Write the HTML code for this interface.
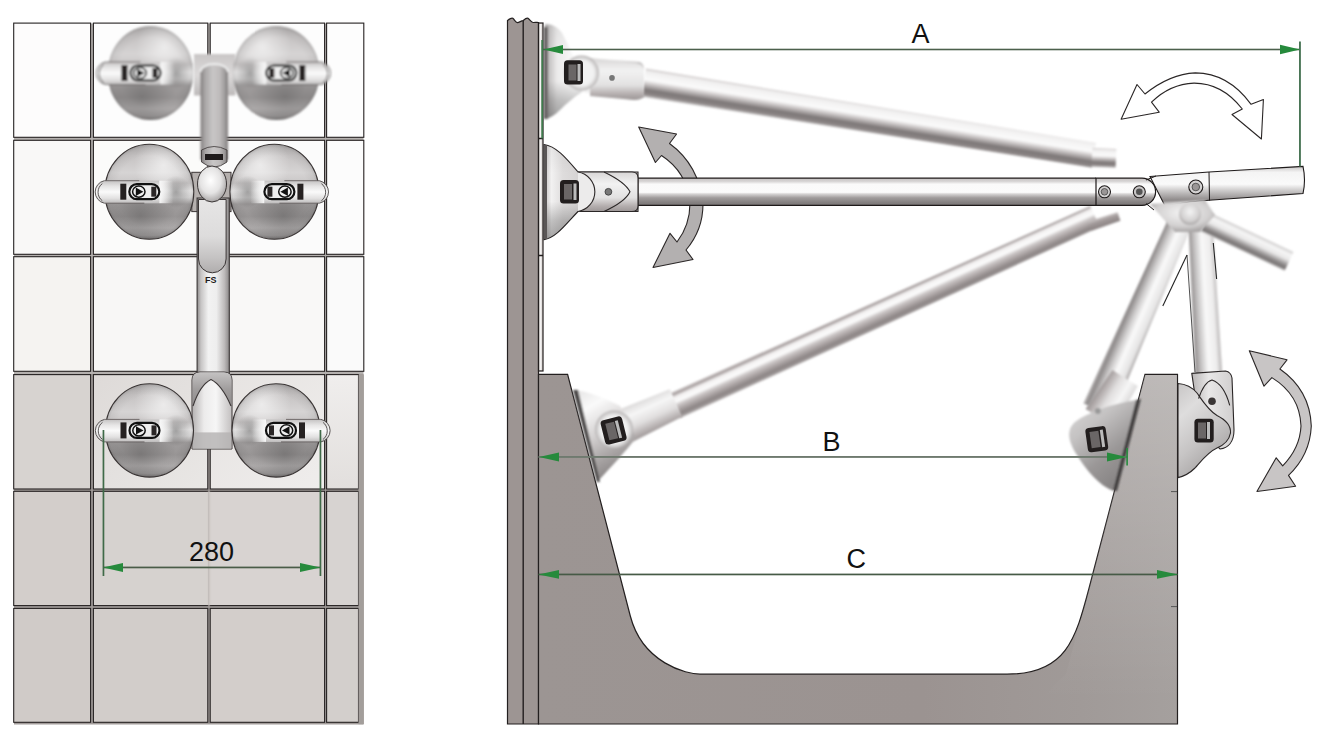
<!DOCTYPE html>
<html><head><meta charset="utf-8">
<style>
html,body{margin:0;padding:0;background:#fff;}
body{width:1322px;height:744px;overflow:hidden;}
svg{display:block;}
text{font-family:"Liberation Sans",sans-serif;}
</style></head>
<body>
<svg width="1322" height="744" viewBox="0 0 1322 744">
<defs>
  <filter id="soft" x="-10%" y="-10%" width="120%" height="120%"><feGaussianBlur stdDeviation="0.9"/></filter>
  <filter id="soft2" x="-10%" y="-10%" width="120%" height="120%"><feGaussianBlur stdDeviation="1.6"/></filter>
  <linearGradient id="r4m" x1="0" y1="0" x2="1" y2="1">
    <stop offset="0" stop-color="#dedad8"/><stop offset="1" stop-color="#e9e7e5"/>
  </linearGradient>
  <linearGradient id="r4m2" x1="0" y1="0" x2="1" y2="1">
    <stop offset="0" stop-color="#e6e3e1"/><stop offset="1" stop-color="#efedec"/>
  </linearGradient>
  <linearGradient id="r4r" x1="0" y1="0" x2="0" y2="1">
    <stop offset="0" stop-color="#f0eeed"/><stop offset="1" stop-color="#e2dfdd"/>
  </linearGradient>
  <!-- cup (left panel) -->
  <linearGradient id="cupLin" x1="0" y1="0" x2="0" y2="1">
    <stop offset="0" stop-color="#b0adad"/>
    <stop offset="0.12" stop-color="#c6c3c3"/>
    <stop offset="0.3" stop-color="#d6d4d4"/>
    <stop offset="0.41" stop-color="#c9c6c6"/>
    <stop offset="0.49" stop-color="#efeeee"/>
    <stop offset="0.56" stop-color="#dddcdc"/>
    <stop offset="0.63" stop-color="#9f9c9c"/>
    <stop offset="0.76" stop-color="#999696"/>
    <stop offset="0.88" stop-color="#b5b2b2"/>
    <stop offset="0.96" stop-color="#a4a1a1"/>
    <stop offset="1" stop-color="#878484"/>
  </linearGradient>
  <radialGradient id="cupDL" cx="0.4" cy="0.75" r="0.4">
    <stop offset="0" stop-color="#000" stop-opacity="0.2"/>
    <stop offset="1" stop-color="#000" stop-opacity="0"/>
  </radialGradient>
  <radialGradient id="cupLR" cx="0.66" cy="0.22" r="0.33">
    <stop offset="0" stop-color="#fff" stop-opacity="0.6"/>
    <stop offset="1" stop-color="#fff" stop-opacity="0"/>
  </radialGradient>
  <radialGradient id="cupDR" cx="0.8" cy="0.5" r="0.17">
    <stop offset="0" stop-color="#000" stop-opacity="0.32"/>
    <stop offset="1" stop-color="#000" stop-opacity="0"/>
  </radialGradient>
  <radialGradient id="cupRad" cx="0.5" cy="0.5" r="0.5">
    <stop offset="0.75" stop-color="#000" stop-opacity="0"/>
    <stop offset="0.93" stop-color="#000" stop-opacity="0.05"/>
    <stop offset="1" stop-color="#000" stop-opacity="0.14"/>
  </radialGradient>
  <linearGradient id="lever" x1="0" y1="0" x2="0" y2="1">
    <stop offset="0" stop-color="#c4c2c2"/>
    <stop offset="0.25" stop-color="#e6e5e5"/>
    <stop offset="0.5" stop-color="#fafafa"/>
    <stop offset="0.78" stop-color="#e2e1e1"/>
    <stop offset="1" stop-color="#bebcbc"/>
  </linearGradient>
  <linearGradient id="leverFade" x1="0" y1="0" x2="1" y2="0">
    <stop offset="0" stop-color="#f8f8f8" stop-opacity="1"/>
    <stop offset="1" stop-color="#f8f8f8" stop-opacity="0"/>
  </linearGradient>
  <linearGradient id="pipeV" x1="0" y1="0" x2="1" y2="0">
    <stop offset="0" stop-color="#6a6666"/>
    <stop offset="0.15" stop-color="#a8a5a5"/>
    <stop offset="0.4" stop-color="#e8e7e7"/>
    <stop offset="0.6" stop-color="#dcdbdb"/>
    <stop offset="0.85" stop-color="#9a9797"/>
    <stop offset="1" stop-color="#5e5a5a"/>
  </linearGradient>
  <linearGradient id="pipeV2" x1="0" y1="0" x2="1" y2="0">
    <stop offset="0" stop-color="#8e8b8b"/>
    <stop offset="0.12" stop-color="#c6c4c4"/>
    <stop offset="0.35" stop-color="#f2f2f2"/>
    <stop offset="0.6" stop-color="#eeeeee"/>
    <stop offset="0.85" stop-color="#bdbaba"/>
    <stop offset="1" stop-color="#8a8787"/>
  </linearGradient>
  <radialGradient id="knob" cx="0.45" cy="0.4" r="0.6">
    <stop offset="0" stop-color="#ffffff"/>
    <stop offset="0.6" stop-color="#e4e3e3"/>
    <stop offset="1" stop-color="#a9a6a6"/>
  </radialGradient>
  <linearGradient id="blockG" x1="0" y1="0" x2="0" y2="1">
    <stop offset="0" stop-color="#c9c6c6"/>
    <stop offset="0.5" stop-color="#dcdada"/>
    <stop offset="1" stop-color="#bdbaba"/>
  </linearGradient>
  <linearGradient id="blockG3" x1="0" y1="0" x2="1" y2="0">
    <stop offset="0" stop-color="#b4b1b1"/>
    <stop offset="0.3" stop-color="#ecebeb"/>
    <stop offset="0.6" stop-color="#f6f6f6"/>
    <stop offset="1" stop-color="#c2bfbf"/>
  </linearGradient>
  <!-- right panel tubes -->
  <linearGradient id="tubeMid" x1="0" y1="0" x2="0" y2="1">
    <stop offset="0" stop-color="#c4c0c0"/>
    <stop offset="0.12" stop-color="#d8d6d6"/>
    <stop offset="0.22" stop-color="#fafafa"/>
    <stop offset="0.52" stop-color="#fbfbfb"/>
    <stop offset="0.58" stop-color="#d6d4d4"/>
    <stop offset="0.72" stop-color="#a09c9c"/>
    <stop offset="0.88" stop-color="#868282"/>
    <stop offset="1" stop-color="#7a7676"/>
  </linearGradient>
  <linearGradient id="tubeTop" x1="0" y1="0" x2="0" y2="1">
    <stop offset="0" stop-color="#cdc8c8"/>
    <stop offset="0.1" stop-color="#f0efef"/>
    <stop offset="0.38" stop-color="#fbfbfb"/>
    <stop offset="0.5" stop-color="#d4d0d0"/>
    <stop offset="0.74" stop-color="#7c7676"/>
    <stop offset="0.9" stop-color="#8e8888"/>
    <stop offset="1" stop-color="#d8d6d6"/>
  </linearGradient>
  <linearGradient id="tubeLL" x1="0" y1="0" x2="0" y2="1">
    <stop offset="0" stop-color="#c8c2c2"/>
    <stop offset="0.1" stop-color="#a8a0a0"/>
    <stop offset="0.2" stop-color="#f2f0f0"/>
    <stop offset="0.38" stop-color="#fcfcfc"/>
    <stop offset="0.5" stop-color="#cdc8c8"/>
    <stop offset="0.64" stop-color="#b0a9a9"/>
    <stop offset="0.82" stop-color="#8c8585"/>
    <stop offset="0.93" stop-color="#9d9797"/>
    <stop offset="1" stop-color="#dcd8d8"/>
  </linearGradient>
  <linearGradient id="tubeTip" x1="0" y1="0" x2="0" y2="1">
    <stop offset="0" stop-color="#c8c2c2"/>
    <stop offset="0.4" stop-color="#a09898"/>
    <stop offset="1" stop-color="#8a8282"/>
  </linearGradient>

  <linearGradient id="tubeR" x1="0" y1="0" x2="0" y2="1">
    <stop offset="0" stop-color="#9a9696"/>
    <stop offset="0.15" stop-color="#e4e3e3"/>
    <stop offset="0.45" stop-color="#fafafa"/>
    <stop offset="0.65" stop-color="#d0cece"/>
    <stop offset="0.88" stop-color="#8e8a8a"/>
    <stop offset="1" stop-color="#bcb9b9"/>
  </linearGradient>
  <linearGradient id="tubeS" x1="0" y1="0" x2="0" y2="1">
    <stop offset="0" stop-color="#cfcdcd"/>
    <stop offset="0.2" stop-color="#f6f6f6"/>
    <stop offset="0.45" stop-color="#e8e7e7"/>
    <stop offset="0.75" stop-color="#8a8686"/>
    <stop offset="0.9" stop-color="#7a7676"/>
    <stop offset="1" stop-color="#d8d6d6"/>
  </linearGradient>
  <linearGradient id="tubeRt" x1="0" y1="0" x2="0" y2="1">
    <stop offset="0" stop-color="#c8c5c5"/>
    <stop offset="0.15" stop-color="#f4f4f4"/>
    <stop offset="0.45" stop-color="#fafafa"/>
    <stop offset="0.6" stop-color="#cfcdcd"/>
    <stop offset="0.85" stop-color="#8e8a8a"/>
    <stop offset="1" stop-color="#a8a5a5"/>
  </linearGradient>
  <radialGradient id="knobJ" cx="0.5" cy="0.4" r="0.6">
    <stop offset="0" stop-color="#f4f4f4"/>
    <stop offset="0.7" stop-color="#d2d0d0"/>
    <stop offset="1" stop-color="#a8a5a5"/>
  </radialGradient>
  <linearGradient id="rcup" x1="0" y1="0" x2="1" y2="0">
    <stop offset="0" stop-color="#c4c0c0"/>
    <stop offset="0.08" stop-color="#f2f1f1"/>
    <stop offset="0.2" stop-color="#dedcdc"/>
    <stop offset="0.5" stop-color="#cfcccc"/>
    <stop offset="1" stop-color="#c6c3c3"/>
  </linearGradient>
  <linearGradient id="rcup2" x1="0" y1="0" x2="0.4" y2="1">
    <stop offset="0" stop-color="#e4e3e3"/>
    <stop offset="0.25" stop-color="#fafafa"/>
    <stop offset="0.55" stop-color="#d4d1d1"/>
    <stop offset="0.78" stop-color="#aca8a8"/>
    <stop offset="1" stop-color="#8a8686"/>
  </linearGradient>
  <linearGradient id="rcup3" x1="0" y1="0" x2="0.6" y2="1">
    <stop offset="0" stop-color="#dcdbdb"/>
    <stop offset="0.35" stop-color="#c4c2c2"/>
    <stop offset="0.7" stop-color="#9a9797"/>
    <stop offset="1" stop-color="#868383"/>
  </linearGradient>
  <linearGradient id="rcup4" x1="0" y1="0" x2="0.5" y2="1">
    <stop offset="0" stop-color="#c8c6c6"/>
    <stop offset="0.3" stop-color="#dedddd"/>
    <stop offset="0.65" stop-color="#c6c4c4"/>
    <stop offset="1" stop-color="#a4a1a1"/>
  </linearGradient>
  <linearGradient id="conn" x1="0" y1="0" x2="0" y2="1">
    <stop offset="0" stop-color="#d8d6d6"/>
    <stop offset="0.3" stop-color="#f2f2f2"/>
    <stop offset="0.65" stop-color="#e2e1e1"/>
    <stop offset="0.86" stop-color="#b4aeae"/>
    <stop offset="1" stop-color="#9c9696"/>
  </linearGradient>
  <linearGradient id="conn2" x1="0" y1="0" x2="0" y2="1">
    <stop offset="0" stop-color="#d8d6d6"/>
    <stop offset="0.3" stop-color="#f6f6f6"/>
    <stop offset="0.6" stop-color="#e0dede"/>
    <stop offset="0.85" stop-color="#b4aeae"/>
    <stop offset="1" stop-color="#9a9494"/>
  </linearGradient>
  <linearGradient id="tubG" gradientUnits="userSpaceOnUse" x1="540" y1="0" x2="1177" y2="0">
    <stop offset="0" stop-color="#9c9593"/>
    <stop offset="0.6" stop-color="#9b9391"/>
    <stop offset="0.85" stop-color="#a09a98"/>
    <stop offset="1" stop-color="#a5a09e"/>
  </linearGradient>
  <linearGradient id="tubeR2" x1="0" y1="0" x2="0" y2="1">
    <stop offset="0" stop-color="#b8b5b5"/>
    <stop offset="0.2" stop-color="#eeeded"/>
    <stop offset="0.5" stop-color="#f8f8f8"/>
    <stop offset="0.75" stop-color="#c8c6c6"/>
    <stop offset="1" stop-color="#8e8a8a"/>
  </linearGradient>
  <linearGradient id="rcupA" x1="0" y1="0" x2="1" y2="0">
    <stop offset="0" stop-color="#b0adad"/>
    <stop offset="0.12" stop-color="#ebeaea"/>
    <stop offset="0.3" stop-color="#fafafa"/>
    <stop offset="0.6" stop-color="#e4e3e3"/>
    <stop offset="1" stop-color="#c0bdbd"/>
  </linearGradient>
  <radialGradient id="ringG" cx="0.5" cy="0.5" r="0.5">
    <stop offset="0.7" stop-color="#f2f2f2"/>
    <stop offset="0.9" stop-color="#d0cece"/>
    <stop offset="1" stop-color="#b0adad"/>
  </radialGradient>
  <linearGradient id="rcupShade" x1="0" y1="0" x2="0" y2="1">
    <stop offset="0" stop-color="#000" stop-opacity="0.05"/>
    <stop offset="0.3" stop-color="#000" stop-opacity="0"/>
    <stop offset="0.6" stop-color="#000" stop-opacity="0"/>
    <stop offset="0.8" stop-color="#000" stop-opacity="0.2"/>
    <stop offset="1" stop-color="#000" stop-opacity="0.32"/>
  </linearGradient>
  <linearGradient id="conn3" x1="0" y1="0" x2="1" y2="0">
    <stop offset="0" stop-color="#b8b5b5"/>
    <stop offset="0.4" stop-color="#e8e7e7"/>
    <stop offset="1" stop-color="#d0cece"/>
  </linearGradient>
  <linearGradient id="rwallL" gradientUnits="userSpaceOnUse" x1="0" y1="375" x2="0" y2="700">
    <stop offset="0" stop-color="#fff" stop-opacity="0.28"/>
    <stop offset="0.45" stop-color="#fff" stop-opacity="0.14"/>
    <stop offset="1" stop-color="#fff" stop-opacity="0"/>
  </linearGradient>
  <linearGradient id="pipeT" x1="0" y1="0" x2="1" y2="0">
    <stop offset="0" stop-color="#7e7a7a"/>
    <stop offset="0.15" stop-color="#a8a5a5"/>
    <stop offset="0.45" stop-color="#c8c6c6"/>
    <stop offset="0.7" stop-color="#bebbbb"/>
    <stop offset="0.9" stop-color="#9c9999"/>
    <stop offset="1" stop-color="#7a7676"/>
  </linearGradient>
  <linearGradient id="pipeIn" x1="0" y1="0" x2="0" y2="1">
    <stop offset="0" stop-color="#e6e5e5"/>
    <stop offset="0.5" stop-color="#dddcdc"/>
    <stop offset="0.8" stop-color="#c4c2c2"/>
    <stop offset="1" stop-color="#b0adad"/>
  </linearGradient>
  <linearGradient id="blockTop" x1="0" y1="0" x2="0" y2="1">
    <stop offset="0" stop-color="#c4c2c2"/>
    <stop offset="0.5" stop-color="#a09d9d"/>
    <stop offset="1" stop-color="#8e8b8b"/>
  </linearGradient>
</defs>
<rect width="1322" height="744" fill="#fff"/>

<!-- ================= LEFT PANEL ================= -->
<g id="tiles">
<rect x="14" y="23.5" width="349.5" height="700.5" fill="#b4b0ae"/>
<rect x="14" y="374" width="349.5" height="350.5" fill="#a29c9a"/>
<rect x="13.7" y="23.1" width="76.9" height="114.2" fill="#fdfcfc" stroke="#262222" stroke-width="1.1"/>
<rect x="93.4" y="23.1" width="114.4" height="114.2" fill="#fdfdfd" stroke="#262222" stroke-width="1.1"/>
<rect x="210.2" y="23.1" width="114.4" height="114.2" fill="#fdfdfd" stroke="#262222" stroke-width="1.1"/>
<rect x="326.6" y="23.1" width="37.2" height="114.2" fill="#fdfdfd" stroke="#262222" stroke-width="1.1"/>
<rect x="13.7" y="140.3" width="76.9" height="114.0" fill="#f9f8f7" stroke="#262222" stroke-width="1.1"/>
<rect x="93.4" y="140.3" width="114.4" height="114.0" fill="#fbfbfa" stroke="#262222" stroke-width="1.1"/>
<rect x="210.2" y="140.3" width="114.4" height="114.0" fill="#fbfbfb" stroke="#262222" stroke-width="1.1"/>
<rect x="326.6" y="140.3" width="37.2" height="114.0" fill="#fcfcfc" stroke="#262222" stroke-width="1.1"/>
<rect x="13.7" y="256.7" width="76.9" height="114.6" fill="#f5f3f1" stroke="#262222" stroke-width="1.1"/>
<rect x="93.4" y="256.7" width="114.4" height="114.6" fill="#f8f7f6" stroke="#262222" stroke-width="1.1"/>
<rect x="210.2" y="256.7" width="114.4" height="114.6" fill="#f9f8f7" stroke="#262222" stroke-width="1.1"/>
<rect x="326.6" y="256.7" width="37.2" height="114.6" fill="#fafafa" stroke="#262222" stroke-width="1.1"/>
<rect x="13.7" y="374.6" width="76.9" height="114.4" fill="#d7d3d0" stroke="#262222" stroke-width="1.1"/>
<rect x="93.4" y="374.6" width="114.4" height="114.4" fill="url(#r4m)" stroke="#262222" stroke-width="1.1"/>
<rect x="210.2" y="374.6" width="114.4" height="114.4" fill="url(#r4m2)" stroke="#262222" stroke-width="1.1"/>
<rect x="326.6" y="374.6" width="31.9" height="114.4" fill="url(#r4r)" stroke="#262222" stroke-width="1.1"/>
<rect x="13.7" y="491.3" width="76.9" height="114.3" fill="#d3cecb" stroke="#262222" stroke-width="1.1"/>
<rect x="93.4" y="491.3" width="114.4" height="114.3" fill="#d6d2cf" stroke="#262222" stroke-width="1.1"/>
<rect x="210.2" y="491.3" width="114.4" height="114.3" fill="#d8d3d1" stroke="#262222" stroke-width="1.1"/>
<rect x="326.6" y="491.3" width="31.9" height="114.3" fill="#d7d3d1" stroke="#262222" stroke-width="1.1"/>
<rect x="13.7" y="608.4" width="76.9" height="113.9" fill="#d0cbc8" stroke="#262222" stroke-width="1.1"/>
<rect x="93.4" y="608.4" width="114.4" height="113.9" fill="#d2cdca" stroke="#262222" stroke-width="1.1"/>
<rect x="210.2" y="608.4" width="114.4" height="113.9" fill="#d3cecb" stroke="#262222" stroke-width="1.1"/>
<rect x="326.6" y="608.4" width="31.9" height="113.9" fill="#d3cfcc" stroke="#262222" stroke-width="1.1"/>
<rect x="358.5" y="374.6" width="5.3" height="349.6" fill="#a39e9b"/>
<rect x="206.8" y="491.8" width="4.4" height="113.3" fill="#d4cfcc"/>
<rect x="208.3" y="491.8" width="1" height="113.3" fill="#bdb7b4"/>
</g>
<g id="pipes">
<g filter="url(#soft)">
<rect x="194" y="54" width="41.5" height="41.5" fill="url(#blockG)"/>
<path d="M200.5,72 A13.75,8 0 0 1 228,72 L228,160 L200.5,160 Z" fill="url(#pipeT)"/>
<path d="M200.5,72 A13.75,8 0 0 1 228,72" fill="none" stroke="#eeeeee" stroke-width="2"/>
</g>
<path d="M201.5,150 Q214,143 227,150 L227,162 Q214,172 201.5,162 Z" fill="url(#pipeT)" stroke="#3a3535" stroke-width="0.8"/>
<path d="M205,154 L223,154 L223,160 L205,160 Z" fill="#1e1a1a"/>
<rect x="191.8" y="172.3" width="39.2" height="39.3" fill="#b5b0ae" stroke="#3a3535" stroke-width="1"/>
<path d="M191.8,178 L186,178 L186,183 M231,178 L237,178 L237,183 M191.8,206 L186,206 L186,201 M231,206 L237,206 L237,201" fill="none" stroke="#3a3535" stroke-width="1"/>
<rect x="197.1" y="198" width="32.2" height="176" fill="url(#pipeV2)" stroke="#3a3535" stroke-width="1.1"/>
<path d="M198.5,199.5 L226.1,199.5 L226.1,259 A13.8,13.8 0 0 1 198.5,259 Z" fill="url(#pipeIn)" stroke="#3a3535" stroke-width="1"/>
<text x="205" y="283" font-size="9" font-weight="bold" fill="#1e1a1a" font-family="Liberation Sans">FS</text>
<ellipse cx="212" cy="184" rx="14.5" ry="18" fill="url(#knob)" stroke="#3a3535" stroke-width="1"/>
<path d="M192,380 Q192,372 200,372 L224,372 Q232,372 232,380 L232,449 L192,449 Z" fill="url(#blockG3)" stroke="#3a3535" stroke-width="1"/>
<path d="M192.5,406 Q200,385 211,379.5 Q222,385 231.5,406 L231.5,380 Q231.5,372.5 224,372.5 L200,372.5 Q192.5,372.5 192.5,380 Z" fill="url(#blockTop)"/>
<path d="M193,406 Q200,385 211,379.5 Q222,385 231,406" fill="none" stroke="#3a3535" stroke-width="1.1"/>
<rect x="192.5" y="432.4" width="39" height="16.5" fill="#b4b1b1" opacity="0.8"/>
</g>
<g id="cups">
<g transform="translate(150.5 73) scale(1 1)" filter="url(#soft)">
<ellipse cx="0" cy="0" rx="43" ry="47" fill="url(#cupLin)"/>
<ellipse cx="0" cy="0" rx="43" ry="47" fill="url(#cupDL)"/>
<ellipse cx="0" cy="0" rx="43" ry="47" fill="url(#cupLR)"/>
<ellipse cx="0" cy="0" rx="43" ry="47" fill="url(#cupDR)"/>
<ellipse cx="0" cy="0" rx="43" ry="47" fill="url(#cupRad)" stroke="none"/>
<path d="M-45,-11 L10,-11 L10,11.5 L-45,11.5 A11.5,11.5 0 0 1 -45,-11 Z" fill="url(#lever)"/>
<rect x="10" y="-11" width="14" height="22.5" fill="url(#leverFade)"/>
<path d="M-45,-11 A11.5,11.5 0 0 0 -45,11.5 M-47,-8 A9,10 0 0 0 -47,9" fill="none" stroke="#4a4545" stroke-width="0.9"/>
<path d="M-45,-11 L-10,-11 M-45,11.5 L-5,11.5" stroke="#5a5454" stroke-width="0.8"/>
<rect x="-29" y="-8" width="6" height="16" fill="#262222"/>
<rect x="-20" y="-7.5" width="30" height="15" rx="7.5" fill="#eeeeee" stroke="#111" stroke-width="2.2"/>
<ellipse cx="-10.5" cy="0" rx="6.2" ry="5.6" fill="none" stroke="#111" stroke-width="1.5"/>
<path d="M-13.5,-4.2 L-6,0 L-13.5,4.2 Z" fill="#111"/>
<rect x="2" y="-5" width="5" height="10" fill="#2a2626"/>
</g>
<g transform="translate(276.3 73) scale(-1 1)" filter="url(#soft)">
<ellipse cx="0" cy="0" rx="43.5" ry="47" fill="url(#cupLin)"/>
<ellipse cx="0" cy="0" rx="43.5" ry="47" fill="url(#cupDL)"/>
<ellipse cx="0" cy="0" rx="43.5" ry="47" fill="url(#cupLR)"/>
<ellipse cx="0" cy="0" rx="43.5" ry="47" fill="url(#cupDR)"/>
<ellipse cx="0" cy="0" rx="43.5" ry="47" fill="url(#cupRad)" stroke="none"/>
<path d="M-45,-11 L10,-11 L10,11.5 L-45,11.5 A11.5,11.5 0 0 1 -45,-11 Z" fill="url(#lever)"/>
<rect x="10" y="-11" width="14" height="22.5" fill="url(#leverFade)"/>
<path d="M-45,-11 A11.5,11.5 0 0 0 -45,11.5 M-47,-8 A9,10 0 0 0 -47,9" fill="none" stroke="#4a4545" stroke-width="0.9"/>
<path d="M-45,-11 L-10,-11 M-45,11.5 L-5,11.5" stroke="#5a5454" stroke-width="0.8"/>
<rect x="-29" y="-8" width="6" height="16" fill="#262222"/>
<rect x="-20" y="-7.5" width="30" height="15" rx="7.5" fill="#eeeeee" stroke="#111" stroke-width="2.2"/>
<ellipse cx="-10.5" cy="0" rx="6.2" ry="5.6" fill="none" stroke="#111" stroke-width="1.5"/>
<path d="M-13.5,-4.2 L-6,0 L-13.5,4.2 Z" fill="#111"/>
<rect x="2" y="-5" width="5" height="10" fill="#2a2626"/>
</g>
<g transform="translate(149.3 191.7) scale(1 1)">
<ellipse cx="0" cy="0" rx="44.5" ry="47.5" fill="url(#cupLin)"/>
<ellipse cx="0" cy="0" rx="44.5" ry="47.5" fill="url(#cupDL)"/>
<ellipse cx="0" cy="0" rx="44.5" ry="47.5" fill="url(#cupLR)"/>
<ellipse cx="0" cy="0" rx="44.5" ry="47.5" fill="url(#cupDR)"/>
<ellipse cx="0" cy="0" rx="44.5" ry="47.5" fill="url(#cupRad)" stroke="#3a3535" stroke-width="1.1"/>
<path d="M-45,-11 L10,-11 L10,11.5 L-45,11.5 A11.5,11.5 0 0 1 -45,-11 Z" fill="url(#lever)"/>
<rect x="10" y="-11" width="14" height="22.5" fill="url(#leverFade)"/>
<path d="M-45,-11 A11.5,11.5 0 0 0 -45,11.5 M-47,-8 A9,10 0 0 0 -47,9" fill="none" stroke="#4a4545" stroke-width="0.9"/>
<path d="M-45,-11 L-10,-11 M-45,11.5 L-5,11.5" stroke="#5a5454" stroke-width="0.8"/>
<rect x="-29" y="-8" width="6" height="16" fill="#262222"/>
<rect x="-20" y="-7.5" width="30" height="15" rx="7.5" fill="#eeeeee" stroke="#111" stroke-width="2.2"/>
<ellipse cx="-10.5" cy="0" rx="6.2" ry="5.6" fill="none" stroke="#111" stroke-width="1.5"/>
<path d="M-13.5,-4.2 L-6,0 L-13.5,4.2 Z" fill="#111"/>
<rect x="2" y="-5" width="5" height="10" fill="#2a2626"/>
</g>
<g transform="translate(274.4 191.7) scale(-1 1)">
<ellipse cx="0" cy="0" rx="44.5" ry="47.5" fill="url(#cupLin)"/>
<ellipse cx="0" cy="0" rx="44.5" ry="47.5" fill="url(#cupDL)"/>
<ellipse cx="0" cy="0" rx="44.5" ry="47.5" fill="url(#cupLR)"/>
<ellipse cx="0" cy="0" rx="44.5" ry="47.5" fill="url(#cupDR)"/>
<ellipse cx="0" cy="0" rx="44.5" ry="47.5" fill="url(#cupRad)" stroke="#3a3535" stroke-width="1.1"/>
<path d="M-45,-11 L10,-11 L10,11.5 L-45,11.5 A11.5,11.5 0 0 1 -45,-11 Z" fill="url(#lever)"/>
<rect x="10" y="-11" width="14" height="22.5" fill="url(#leverFade)"/>
<path d="M-45,-11 A11.5,11.5 0 0 0 -45,11.5 M-47,-8 A9,10 0 0 0 -47,9" fill="none" stroke="#4a4545" stroke-width="0.9"/>
<path d="M-45,-11 L-10,-11 M-45,11.5 L-5,11.5" stroke="#5a5454" stroke-width="0.8"/>
<rect x="-29" y="-8" width="6" height="16" fill="#262222"/>
<rect x="-20" y="-7.5" width="30" height="15" rx="7.5" fill="#eeeeee" stroke="#111" stroke-width="2.2"/>
<ellipse cx="-10.5" cy="0" rx="6.2" ry="5.6" fill="none" stroke="#111" stroke-width="1.5"/>
<path d="M-13.5,-4.2 L-6,0 L-13.5,4.2 Z" fill="#111"/>
<rect x="2" y="-5" width="5" height="10" fill="#2a2626"/>
</g>
<g transform="translate(149.5 430.4) scale(1 1)">
<ellipse cx="0" cy="0" rx="44" ry="46.7" fill="url(#cupLin)"/>
<ellipse cx="0" cy="0" rx="44" ry="46.7" fill="url(#cupDL)"/>
<ellipse cx="0" cy="0" rx="44" ry="46.7" fill="url(#cupLR)"/>
<ellipse cx="0" cy="0" rx="44" ry="46.7" fill="url(#cupDR)"/>
<ellipse cx="0" cy="0" rx="44" ry="46.7" fill="url(#cupRad)" stroke="#3a3535" stroke-width="1.1"/>
<path d="M-45,-11 L10,-11 L10,11.5 L-45,11.5 A11.5,11.5 0 0 1 -45,-11 Z" fill="url(#lever)"/>
<rect x="10" y="-11" width="14" height="22.5" fill="url(#leverFade)"/>
<path d="M-45,-11 A11.5,11.5 0 0 0 -45,11.5 M-47,-8 A9,10 0 0 0 -47,9" fill="none" stroke="#4a4545" stroke-width="0.9"/>
<path d="M-45,-11 L-10,-11 M-45,11.5 L-5,11.5" stroke="#5a5454" stroke-width="0.8"/>
<rect x="-29" y="-8" width="6" height="16" fill="#262222"/>
<rect x="-20" y="-7.5" width="30" height="15" rx="7.5" fill="#eeeeee" stroke="#111" stroke-width="2.2"/>
<ellipse cx="-10.5" cy="0" rx="6.2" ry="5.6" fill="none" stroke="#111" stroke-width="1.5"/>
<path d="M-13.5,-4.2 L-6,0 L-13.5,4.2 Z" fill="#111"/>
<rect x="2" y="-5" width="5" height="10" fill="#2a2626"/>
</g>
<g transform="translate(276 430.4) scale(-1 1)">
<ellipse cx="0" cy="0" rx="44" ry="46.7" fill="url(#cupLin)"/>
<ellipse cx="0" cy="0" rx="44" ry="46.7" fill="url(#cupDL)"/>
<ellipse cx="0" cy="0" rx="44" ry="46.7" fill="url(#cupLR)"/>
<ellipse cx="0" cy="0" rx="44" ry="46.7" fill="url(#cupDR)"/>
<ellipse cx="0" cy="0" rx="44" ry="46.7" fill="url(#cupRad)" stroke="#3a3535" stroke-width="1.1"/>
<path d="M-45,-11 L10,-11 L10,11.5 L-45,11.5 A11.5,11.5 0 0 1 -45,-11 Z" fill="url(#lever)"/>
<rect x="10" y="-11" width="14" height="22.5" fill="url(#leverFade)"/>
<path d="M-45,-11 A11.5,11.5 0 0 0 -45,11.5 M-47,-8 A9,10 0 0 0 -47,9" fill="none" stroke="#4a4545" stroke-width="0.9"/>
<path d="M-45,-11 L-10,-11 M-45,11.5 L-5,11.5" stroke="#5a5454" stroke-width="0.8"/>
<rect x="-29" y="-8" width="6" height="16" fill="#262222"/>
<rect x="-20" y="-7.5" width="30" height="15" rx="7.5" fill="#eeeeee" stroke="#111" stroke-width="2.2"/>
<ellipse cx="-10.5" cy="0" rx="6.2" ry="5.6" fill="none" stroke="#111" stroke-width="1.5"/>
<path d="M-13.5,-4.2 L-6,0 L-13.5,4.2 Z" fill="#111"/>
<rect x="2" y="-5" width="5" height="10" fill="#2a2626"/>
</g>
</g>

<!-- ================= RIGHT PANEL ================= -->
<g id="wall">
  <path d="M507.5,724 L507.5,20.5 C509.5,19 511,17.5 512.8,18.3 C514.5,19.5 515.5,22.5 517.3,22.6 C519.5,22.4 521,20.8 523.2,20.6 C525,19 526.5,17.5 528,18.3 C529.8,19.5 531,22.3 533,22.5 C535,22.6 537,22.2 538.5,22.5 L538.5,724 Z" fill="#9d9593" stroke="#231f1f" stroke-width="1.2"/>
  <rect x="538.5" y="23" width="4.5" height="348" fill="#d9d5d3" stroke="#231f1f" stroke-width="1.2"/>
  <rect x="540" y="24" width="1.4" height="346" fill="#f4f2f2"/>
  <path d="M538.5,255.5 L543,255.5 M538.5,138.5 L543,138.5" stroke="#231f1f" stroke-width="1.3"/>
  <line x1="523.2" y1="20.8" x2="523.2" y2="724" stroke="#231f1f" stroke-width="1.4"/>
</g>
<g id="tub">
  <path d="M538.5,374.4 L567.6,374.4 L630.3,616 C642.6,663.4 687,674.2 700,674.2 L1007,674.2 C1066,674.2 1075.6,639.3 1089.1,588 L1145,374.4 L1177.5,374.4 L1177.5,724 L538.5,724 Z" fill="url(#tubG)" stroke="#231f1f" stroke-width="1.2"/>
</g>
<path d="M1145,375 L1177,375 L1177,700 L1040,700 L1066,674 L1089,588 Z" fill="url(#rwallL)"/>
<path d="M1171,491.6 L1177,491.6 M1171,606.6 L1177,606.6" stroke="#555" stroke-width="1"/>
<g id="rtubes">
<g filter="url(#soft)">
<g transform="translate(643.6 82.7) rotate(9.16)"><path d="M0,-14.3 L456.2,-12.6 L456.2,12.6 L0,14.3 Z" fill="url(#tubeTop)"/></g>
<g transform="translate(1092.0 157.5) rotate(2.39)"><path d="M0,-9.5 L24.0,-9.5 L24.0,9.5 L0,9.5 Z" fill="url(#tubeTop)"/></g>
</g>
<g filter="url(#soft)">
<g transform="translate(675.0 405.9) rotate(-24.27)"><path d="M0,-13.5 L460.7,-11.5 L460.7,11.5 L0,13.5 Z" fill="url(#tubeLL)"/></g>
<g transform="translate(1090.0 226.0) rotate(-18.14)"><path d="M0,-5.0 L30.5,-4.5 L30.5,4.5 L0,5.0 Z" fill="url(#tubeTip)"/></g>
</g>
<g filter="url(#soft)">
<g transform="translate(1181.0 220.0) rotate(113.60)"><path d="M0,-12.0 L207.3,-16.0 L207.3,16.0 L0,12.0 Z" fill="url(#tubeR)"/></g>
<g transform="translate(1200.0 215.0) rotate(86.80)"><path d="M0,-12.0 L170.3,-13.5 L170.3,13.5 L0,12.0 Z" fill="url(#tubeR2)"/></g>
<g transform="translate(1205.0 222.0) rotate(25.13)"><path d="M0,-10.5 L92.8,-10.5 L92.8,10.5 L0,10.5 Z" fill="url(#tubeS)"/></g>
</g>
<path d="M1187,255 L1162.8,306" stroke="#222" stroke-width="1.1" fill="none"/>
<path d="M1187,255 L1195,372" stroke="#333" stroke-width="1" fill="none" opacity="0.85"/>
<path d="M1213.3,243 L1216.6,279" stroke="#222" stroke-width="1.1" fill="none"/>
<path d="M638.7,127 L676.6,134 L669.5,143.5 Q699,165 703,204 Q703,230 686,250 L693,259.5 L653,267.5 L670,233.3 L677,242 Q690,225 690,203 Q687,172 661.5,155.5 L655.4,162.5 Z" fill="#b3b0b0" stroke="#2a2626" stroke-width="1.1" stroke-linejoin="round"/>
<rect x="638" y="178.2" width="458" height="27.2" fill="url(#tubeMid)"/>
<path d="M638,178.2 L1096,178.2 M638,205.4 L1096,205.4" stroke="#1e1a1a" stroke-width="1.3"/>
<path d="M1150,176.5 L1209,172 L1303,166.4 Q1306,180 1303,193.6 L1209,200.2 L1190,202 L1165,206 Z" fill="url(#tubeRt)" stroke="#1e1a1a" stroke-width="1.1"/>
<path d="M1209,172 L1209.5,200.5" stroke="#1e1a1a" stroke-width="1"/>
<g filter="url(#soft)"><path d="M1150,204 L1205,200 L1215,215 L1200,232 L1175,232 Z" fill="url(#knobJ)"/><circle cx="1190" cy="214" r="11" fill="url(#knobJ)"/></g>
<circle cx="1195.8" cy="187" r="7" fill="#d4d2d2" stroke="#1e1a1a" stroke-width="1.1"/><circle cx="1195.8" cy="187" r="3.8" fill="#9a9696" stroke="#444" stroke-width="0.8"/>
<path d="M1096,178.2 L1142,178.2 A13.6,13.6 0 0 1 1142,205.4 L1096,205.4 Z" fill="url(#tubeMid)" stroke="#1e1a1a" stroke-width="1.2"/>
<path d="M1146,180 L1156,176 M1146,203.5 L1154,210" stroke="#1e1a1a" stroke-width="1"/>
<circle cx="1104.5" cy="191.8" r="6" fill="#d4d2d2" stroke="#1e1a1a" stroke-width="1.1"/><circle cx="1104.5" cy="191.8" r="3.3" fill="#9a9696" stroke="#444" stroke-width="0.8"/>
<circle cx="1139.3" cy="191.8" r="6" fill="#c8c6c6" stroke="#1e1a1a" stroke-width="1.1"/><circle cx="1139.3" cy="191.8" r="3.3" fill="#555" />
<g filter="url(#soft)">
<path d="M545,24 C552,24 558,27 562,33 C566,40 570,50 574,57 L640,62 Q644,64 644,70 L644,97 Q640,100 634,100 L582,92 C574,97 566,104 560,110 C555,115 550,118 545,119 Z" fill="url(#rcupA)"/>
<path d="M590,58 L636,63 Q644,65 644,70 L644,97 Q640,100 634,100 L590,96 Z" fill="url(#conn)"/>
<path d="M545,24 C552,24 558,27 562,33 C566,40 570,50 574,57 L582,92 C574,97 566,104 560,110 C555,115 550,118 545,119 Z" fill="url(#rcupShade)"/>
<circle cx="581.5" cy="73" r="17.5" fill="url(#ringG)"/>
<rect x="543.5" y="27" width="4.5" height="92" fill="#6a6666"/>
</g>
<rect x="564" y="60.3" width="19" height="24.3" rx="3.5" fill="#221e1e"/><rect x="568.5" y="64.5" width="8" height="16" fill="#6a6666"/><rect x="577.5" y="64" width="3" height="17" fill="#bbb"/>
<circle cx="612" cy="77.9" r="2.8" fill="#777"/>
<path d="M544,144.5 C556,146 566,158 578,172 L638,172 L638,211.5 L578,211.5 C566,224 556,238 544,239.7 Z" fill="url(#rcup)" stroke="#2a2626" stroke-width="1.1"/>
<path d="M544,144.5 C556,146 566,158 578,172 L578,211.5 C566,224 556,238 544,239.7 Z" fill="url(#rcupShade)"/>
<path d="M578,172 L632,172 Q638,172 638,178 L638,206 Q638,211.5 632,211.5 L578,211.5" fill="url(#conn)" stroke="#2a2626" stroke-width="1.1"/>
<path d="M604,172 Q625,182 630,191.8 Q625,202 604,211.5" fill="none" stroke="#2a2626" stroke-width="1.1"/>
<path d="M578,172 A20,20 0 0 1 578,211.5" fill="#ecebeb" stroke="#2a2626" stroke-width="1.1"/>
<circle cx="608.4" cy="191.8" r="3.4" fill="#777" stroke="#333" stroke-width="0.8"/>
<rect x="560" y="180" width="19" height="23.5" rx="3.5" fill="#221e1e"/><rect x="564" y="184" width="8" height="15.5" fill="#6a6666"/><rect x="573.5" y="183.5" width="3" height="16.5" fill="#bbb"/>
<rect x="544" y="145" width="3" height="94" fill="#5a5656"/>
<g filter="url(#soft)">
<g transform="translate(606.0 434.6) rotate(-24.30)"><path d="M0,-18.5 L76.8,-15.0 L76.8,15.0 L0,18.5 Z" fill="url(#conn2)"/></g>
<path d="M573,390 C588,391 604,398 620,406 L636,438 C625,452 611,467 597,482 Z" fill="url(#rcup2)"/>
<path d="M573,390 L578,390 L600,482 L597,482 Z" fill="#4a4646"/>
<circle cx="614" cy="429.5" r="19" fill="url(#ringG)"/>
</g>
<g transform="rotate(-14 613.5 430)"><rect x="602.5" y="418" width="22" height="25" rx="3.5" fill="#221e1e"/><rect x="607" y="422" width="9" height="17" fill="#6a6666"/><rect x="617" y="421.5" width="3" height="18" fill="#bbb"/></g>
<g filter="url(#soft)">
<g transform="translate(1125.0 378.0) rotate(122.01)"><path d="M0,-15.0 L47.2,-17.0 L47.2,17.0 L0,15.0 Z" fill="url(#conn2)"/></g>
<path d="M1136,400 L1112.6,490.5 C1100,486 1086,470 1077,455 C1068,441 1066,430 1075,422 C1088,412 1112,404 1136,400 Z" fill="url(#rcup3)"/>
<path d="M1136,400 L1141,399 L1117,491 L1112.6,490.5 Z" fill="#4a4646"/>
<circle cx="1097.8" cy="411" r="3" fill="#999"/>
</g>
<g transform="rotate(-8 1096.5 439)"><rect x="1086.5" y="427" width="20.5" height="24.5" rx="3.5" fill="#221e1e"/><rect x="1090.5" y="431" width="9" height="16.5" fill="#6a6666"/><rect x="1101" y="430.5" width="3" height="17.5" fill="#bbb"/></g>
<path d="M1191.8,373.4 L1225.5,371 Q1231,372 1232,378 L1234,430 C1234,442 1228,448 1220,449 L1200,430 Z" fill="url(#conn3)" stroke="#2a2626" stroke-width="1.1"/>
<path d="M1178,383.5 C1186,384 1192,387 1197,393 C1202,400 1208,410 1217,415.5 C1226,420 1231,426 1230.5,433 C1229,441 1224,445 1217,448 C1208,452 1202,460 1195,468 C1190,473 1185,476 1178,477.6 Z" fill="url(#rcup4)" stroke="#2a2626" stroke-width="1.1"/>
<path d="M1198.6,398.7 Q1204,382 1212,380 Q1224,384 1229.7,405.4" fill="none" stroke="#2a2626" stroke-width="1.1"/>
<circle cx="1212" cy="401.2" r="3.8" fill="#3a3636"/>
<rect x="1194.4" y="418.8" width="19.3" height="23.6" rx="3.5" fill="#221e1e"/><rect x="1198" y="422.5" width="8" height="16" fill="#6a6666"/><rect x="1207" y="422" width="3" height="17" fill="#bbb"/>
<path d="M1121.1,119.2 L1137,84.5 L1145,94 Q1170,74 1195.3,72.9 Q1228,73 1251.1,104.3 L1263.4,99.5 L1261.4,139 L1232,114.5 L1242.3,109 Q1222,83 1194,83.1 Q1170,84 1151.5,102.2 L1159.2,112.2 Z" fill="#ffffff" stroke="#2a2626" stroke-width="1.1" stroke-linejoin="round"/>
<path d="M1249.3,350.7 L1287,359.8 L1279.9,369 Q1310,390 1311.3,426 Q1310,455 1288.5,475.4 L1295.6,486.2 L1256.9,491.5 L1276.2,457.8 L1282.7,465.8 Q1300,448 1301,426 Q1300,395 1271.9,377.6 L1264,386.2 Z" fill="#c8c5c5" stroke="#2a2626" stroke-width="1.1" stroke-linejoin="round"/>
</g>

<!-- dimension lines -->
<g id="dims" fill="#268a3c" stroke="none">
  <rect x="543" y="48.7" width="757" height="1.6" fill="#4c604c"/>
  <rect x="1299" y="41.5" width="1.9" height="125" fill="#4a7556"/>
  <path d="M543.5,49.5 L563,45 L563,54 Z"/>
  <path d="M1300,49.5 L1280,44.7 L1280,54.3 Z"/>

  <rect x="538.5" y="456" width="589" height="1.9" fill="#6f7a6f"/>
  <path d="M539,457 L559,452.5 L559,461.5 Z"/>
  <path d="M1127,457 L1107,452.5 L1107,461.5 Z"/>
  <rect x="1126.3" y="448" width="1.6" height="17.5"/>

  <rect x="538.5" y="573.6" width="639" height="1.7" fill="#465a46"/>
  <path d="M538.5,574.4 L559,570 L559,578.8 Z"/>
  <path d="M1178,574.4 L1157,570 L1157,578.8 Z"/>

  <rect x="102.6" y="430" width="1.7" height="146" fill="#3f6a48"/>
  <rect x="319.6" y="430" width="1.7" height="146" fill="#3f6a48"/>
  <rect x="103" y="566.6" width="217" height="1.7" fill="#4a5c48"/>
  <path d="M103,567.5 L123,563 L123,572 Z"/>
  <path d="M320.5,567.5 L300,563 L300,572 Z"/>
</g>
<rect x="541.3" y="40" width="1.8" height="98.5" fill="#3f7a4c"/>
<g id="labels" fill="#111" font-size="27">
  <text x="911.5" y="43">A</text>
  <text x="822.5" y="451">B</text>
  <text x="846.5" y="568">C</text>
  <text x="189" y="561">280</text>
</g>
</svg>
</body></html>
